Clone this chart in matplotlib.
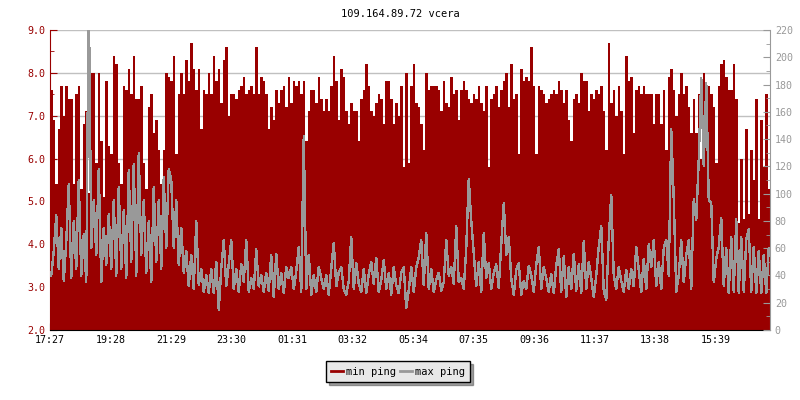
import matplotlib
matplotlib.use('Agg')
import matplotlib.pyplot as plt
from matplotlib.lines import Line2D
import numpy as np

# one sample every 5 minutes, 24 samples per 2-hour block
title = '109.164.89.72 vcera'
tick_labels = ['17:27', '19:28', '21:29', '23:30', '01:31', '03:32',
               '05:34', '07:35', '09:36', '11:37', '13:38', '15:39']
tick_step = 121  # minutes between labelled ticks
sample_step = 5

min_ping = [
    7.6, 6.9, 5.4, 6.7, 7.7, 7.0, 7.7, 7.4, 7.4, 5.4, 7.5, 7.7, 5.3, 6.8, 7.1, 5.2, 8.0, 8.0, 5.9, 8.0, 6.4, 5.1, 7.8, 6.3,
    6.1, 8.4, 8.2, 5.9, 5.4, 7.7, 7.6, 8.1, 7.5, 8.4, 7.4, 7.4, 7.7, 5.9, 5.3, 7.2, 7.5, 6.6, 6.9, 6.2, 5.4, 6.2, 8.0, 7.9,
    7.8, 8.4, 6.1, 7.5, 8.0, 7.5, 8.3, 7.8, 8.7, 8.1, 7.6, 8.1, 6.7, 7.6, 7.5, 8.0, 7.5, 8.4, 7.8, 8.1, 7.3, 8.3, 8.6, 7.0,
    7.5, 7.5, 7.4, 7.6, 7.7, 7.9, 7.5, 7.6, 7.7, 7.5, 8.6, 7.5, 7.9, 7.8, 7.5, 6.7, 7.2, 6.9, 7.6, 7.3, 7.6, 7.7, 7.2, 7.9,
    7.3, 7.8, 7.7, 7.8, 7.5, 7.8, 6.4, 7.1, 7.6, 7.6, 7.3, 7.9, 7.4, 7.1, 7.4, 7.1, 7.7, 8.4, 7.8, 6.9, 8.1, 7.9, 7.1, 6.8,
    7.3, 7.1, 7.1, 6.4, 7.4, 7.6, 8.2, 7.7, 7.1, 7.0, 7.3, 7.5, 7.4, 6.8, 7.8, 7.8, 7.4, 6.8, 7.3, 7.0, 7.7, 5.8, 8.0, 5.9,
    7.7, 8.2, 7.3, 7.2, 6.8, 6.2, 8.0, 7.6, 7.7, 7.7, 7.7, 7.6, 7.1, 7.8, 7.3, 7.2, 7.9, 7.5, 7.6, 6.9, 7.6, 7.8, 7.6, 7.4,
    7.3, 7.5, 7.4, 7.7, 7.3, 7.1, 7.7, 5.8, 7.4, 7.5, 7.7, 7.2, 7.6, 7.8, 8.0, 7.2, 8.2, 7.4, 7.5, 6.1, 8.1, 7.8, 7.9, 7.8,
    8.6, 7.7, 6.1, 7.7, 7.6, 7.5, 7.3, 7.4, 7.5, 7.6, 7.5, 7.8, 7.6, 7.3, 7.6, 6.9, 6.4, 7.4, 7.5, 7.3, 8.0, 7.8, 7.8, 7.1,
    7.5, 7.4, 7.6, 7.5, 7.7, 7.1, 6.2, 8.7, 7.3, 7.6, 7.0, 7.7, 7.1, 6.1, 8.4, 7.8, 7.9, 6.6, 7.6, 7.7, 7.5, 7.7, 7.5, 7.5,
    7.5, 6.8, 7.5, 7.5, 6.8, 7.6, 6.2, 7.9, 8.1, 7.6, 7.0, 7.5, 8.0, 7.5, 7.7, 7.2, 6.6, 7.4, 6.6, 7.5, 6.0, 8.0, 7.2, 7.7,
    7.5, 7.2, 5.9, 7.7, 8.2, 8.3, 7.9, 7.6, 7.6, 8.2, 7.4, 4.5, 6.0, 4.6, 6.7, 4.7, 6.2, 5.5, 7.4, 4.6, 6.9, 5.8, 7.5, 5.3,
]

max_ping = [
    40, 58, 84, 45, 75, 36, 65, 107, 38, 80, 45, 110, 40, 70, 35, 250, 60, 95, 55, 118, 35, 75, 48, 85,
    45, 95, 40, 105, 45, 88, 38, 117, 50, 122, 40, 130, 55, 95, 42, 80, 35, 105, 50, 95, 45, 112, 60, 118,
    110, 60, 95, 48, 75, 42, 58, 32, 55, 30, 80, 33, 45, 28, 40, 27, 45, 27, 50, 15, 45, 66, 32, 48,
    66, 30, 45, 28, 48, 35, 66, 28, 38, 30, 59, 32, 40, 28, 42, 29, 55, 24, 56, 30, 42, 27, 46, 38,
    46, 30, 43, 61, 28, 142, 30, 55, 26, 40, 28, 46, 38, 30, 40, 26, 45, 64, 32, 42, 46, 30, 26, 36,
    68, 30, 49, 34, 28, 45, 27, 41, 50, 34, 53, 28, 37, 51, 30, 42, 26, 46, 33, 27, 42, 46, 16, 29,
    46, 28, 46, 53, 66, 33, 71, 30, 45, 28, 37, 42, 29, 35, 66, 40, 46, 34, 76, 35, 38, 30, 60, 111,
    80, 56, 32, 50, 28, 71, 38, 49, 30, 42, 48, 31, 63, 93, 55, 68, 38, 26, 44, 49, 26, 36, 30, 47,
    40, 28, 48, 61, 30, 46, 38, 28, 41, 27, 47, 59, 28, 54, 24, 46, 30, 56, 29, 48, 27, 65, 30, 50,
    38, 24, 40, 61, 76, 29, 22, 66, 99, 40, 30, 46, 36, 28, 44, 30, 45, 32, 61, 44, 28, 52, 30, 63,
    46, 66, 32, 50, 30, 60, 66, 40, 147, 96, 28, 40, 66, 35, 55, 66, 30, 96, 81, 125, 185, 120, 181, 95,
    93, 35, 52, 61, 82, 32, 60, 27, 68, 28, 81, 27, 68, 28, 66, 74, 28, 61, 27, 58, 27, 55, 27, 60,
]

red = '#990000'
grey = '#999999'
plt.rcParams['font.family'] = 'DejaVu Sans Mono'
plt.rcParams['font.size'] = 7.2

n = len(min_ping)
edges = np.arange(n + 1) * sample_step
centers = edges[:-1] + sample_step / 2

fig = plt.figure(figsize=(8, 4), dpi=100)
ax = fig.add_axes([0.0625, 0.175, 0.9, 0.75])
ax.stairs(min_ping, edges, baseline=2.0, fill=True, color=red, linewidth=0)
ax.set_xlim(0, n * sample_step)
ax.set_ylim(2.0, 9.0)
ax.set_axisbelow(True)
ax.yaxis.grid(True, color='#c0c0c0', linewidth=1)
ax.set_yticks(np.arange(2, 10, 1.0))
ax.set_yticks(np.arange(2.5, 9, 1.0), minor=True)
ax.set_yticklabels(['%.1f' % v for v in np.arange(2, 10, 1.0)])
ax.set_xticks(np.arange(len(tick_labels)) * tick_step)
ax.set_xticklabels(tick_labels)
ax.tick_params(axis='y', which='both', direction='in', colors=red, labelcolor=red)
ax.tick_params(axis='y', which='major', length=5)
ax.tick_params(axis='y', which='minor', length=3)
ax.tick_params(axis='x', direction='in', length=5, colors='black')
ax.spines['left'].set_color(red)
ax.spines['top'].set_visible(False)
ax.spines['right'].set_visible(False)

ax2 = ax.twinx()
ax2.plot(centers, max_ping, color=grey, linewidth=1.0, antialiased=False)
ax2.set_ylim(0, 220)
ax2.set_yticks(np.arange(0, 221, 20))
ax2.set_yticks(np.arange(10, 220, 20), minor=True)
ax2.tick_params(axis='y', which='both', direction='in', colors=grey, labelcolor=grey)
ax2.tick_params(axis='y', which='major', length=5)
ax2.tick_params(axis='y', which='minor', length=3)
ax2.spines['right'].set_color(grey)
ax2.spines['top'].set_visible(False)
ax2.spines['left'].set_visible(False)
ax2.spines['bottom'].set_visible(False)

fig.text(0.5, 0.965, title, ha='center', va='center', fontsize=7.5)

handles = [Line2D([], [], color=red, linewidth=2), Line2D([], [], color=grey, linewidth=2)]
leg = fig.legend(handles, ['min ping', 'max ping'], loc='center', bbox_to_anchor=(0.4975, 0.071),
                 ncol=2, frameon=True, shadow=True, fancybox=False, facecolor='#e8e8e8',
                 edgecolor='black', handlelength=1.1, columnspacing=0.4, handletextpad=0.3,
                 borderpad=0.5, fontsize=7.5)
leg.get_frame().set_linewidth(1.0)

fig.savefig('out.png', dpi=100)
